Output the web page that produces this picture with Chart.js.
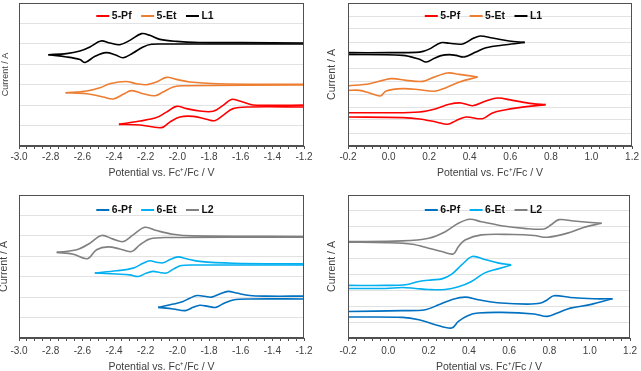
<!DOCTYPE html>
<html><head><meta charset="utf-8">
<script src="https://cdn.jsdelivr.net/npm/chart.js@4"></script>
<style>
html,body{margin:0;padding:0;background:#fff;overflow:hidden;width:641px;height:371px;position:relative;}
canvas{position:absolute;}
</style></head><body>
<canvas id="c1" width="320" height="185" style="left:0;top:0;width:320px;height:185px"></canvas>
<canvas id="c2" width="321" height="185" style="left:320px;top:0;width:321px;height:185px"></canvas>
<canvas id="c3" width="320" height="192" style="left:0;top:185px;width:320px;height:192px"></canvas>
<canvas id="c4" width="321" height="192" style="left:320px;top:185px;width:321px;height:192px"></canvas>
<script>
// ---- Data: [potential (V vs Fc+/Fc), current (arb. offset units)] ; a = upper branch, b = lower branch
// Panel 1 (reduction, 5-Pf / 5-Et / L1)
const p1L1a = [[-2.815,4.47],[-2.70,4.52],[-2.615,4.65],[-2.552,4.85],[-2.483,5.14],[-2.426,5.04],[-2.363,4.96],[-2.30,5.17],[-2.226,5.50],[-2.174,5.42],[-2.11,5.22],[-2.005,5.12],[-1.86,5.07],[-1.6,5.06],[-1.2,5.04]];
const p1L1b = [[-2.815,4.47],[-2.70,4.36],[-2.615,4.23],[-2.583,4.09],[-2.52,4.39],[-2.45,4.57],[-2.394,4.47],[-2.342,4.32],[-2.28,4.55],[-2.216,4.85],[-2.163,4.98],[-2.07,4.99],[-1.2,4.99]];
const p1Eta = [[-2.706,2.61],[-2.573,2.69],[-2.489,2.85],[-2.426,3.05],[-2.325,3.16],[-2.258,3.05],[-2.195,3.00],[-2.132,3.13],[-2.069,3.36],[-2.005,3.26],[-1.921,3.13],[-1.753,3.05],[-1.2,3.02]];
const p1Etb = [[-2.706,2.61],[-2.573,2.56],[-2.468,2.40],[-2.405,2.30],[-2.342,2.53],[-2.289,2.71],[-2.216,2.56],[-2.142,2.46],[-2.09,2.64],[-2.026,2.89],[-1.963,2.95],[-1.2,2.99]];
const p1Pfa = [[-2.369,1.06],[-2.237,1.22],[-2.132,1.39],[-2.069,1.66],[-2.005,1.94],[-1.942,1.83],[-1.858,1.71],[-1.774,1.70],[-1.711,1.99],[-1.659,2.28],[-1.606,2.20],[-1.522,2.01],[-1.438,1.99],[-1.2,2.00]];
const p1Pfb = [[-2.369,1.06],[-2.237,1.03],[-2.10,0.90],[-2.048,1.17],[-1.984,1.42],[-1.90,1.45],[-1.816,1.31],[-1.764,1.24],[-1.711,1.50],[-1.648,1.83],[-1.543,1.91],[-1.2,1.91]];
// Panel 2 (oxidation, 5-Pf / 5-Et / L1)
const p2L1a = [[-0.2,7.18],[0.0,7.18],[0.136,7.20],[0.17,7.28],[0.20,7.45],[0.258,7.95],[0.30,7.90],[0.365,7.85],[0.42,8.30],[0.452,8.46],[0.512,8.31],[0.594,8.08],[0.671,7.97]];
const p2L1b = [[0.671,7.97],[0.578,7.79],[0.48,7.56],[0.43,7.23],[0.373,6.85],[0.332,6.97],[0.30,7.03],[0.258,6.95],[0.226,6.75],[0.185,6.46],[0.152,6.67],[0.07,6.97],[-0.2,7.05]];
const p2Eta = [[-0.2,4.62],[-0.094,4.79],[0.013,5.18],[0.087,5.05],[0.168,4.97],[0.218,5.26],[0.291,5.62],[0.349,5.51],[0.439,5.31]];
const p2Etb = [[0.439,5.31],[0.349,4.92],[0.283,4.49],[0.226,4.21],[0.152,4.33],[0.07,4.41],[-0.012,4.23],[-0.04,3.85],[-0.094,4.08],[-0.143,4.28],[-0.2,4.28]];
const p2Pfa = [[-0.2,2.56],[0.0,2.56],[0.152,2.62],[0.234,2.87],[0.299,3.21],[0.357,3.31],[0.414,3.10],[0.48,3.46],[0.537,3.69],[0.611,3.51],[0.709,3.26],[0.774,3.18]];
const p2Pfb = [[0.774,3.18],[0.643,2.95],[0.578,2.79],[0.512,2.54],[0.463,2.10],[0.381,2.23],[0.332,1.95],[0.291,1.67],[0.234,1.85],[0.152,2.08],[0.07,2.18],[-0.2,2.23]];
// Panel 3 (reduction, 6-Pf / 6-Et / L2)
const p3L2a = [[-2.762,4.19],[-2.636,4.32],[-2.552,4.64],[-2.479,5.02],[-2.405,4.84],[-2.342,4.72],[-2.279,5.05],[-2.205,5.42],[-2.132,5.26],[-2.027,5.08],[-1.90,5.00],[-1.2,4.97]];
const p3L2b = [[-2.762,4.19],[-2.657,4.10],[-2.569,3.88],[-2.51,4.32],[-2.437,4.46],[-2.363,4.36],[-2.289,4.23],[-2.237,4.56],[-2.174,4.85],[-2.069,4.92],[-1.2,4.93]];
const p3Eta = [[-2.521,3.18],[-2.384,3.29],[-2.279,3.42],[-2.216,3.66],[-2.174,3.78],[-2.132,3.71],[-2.09,3.68],[-2.048,3.83],[-1.995,3.97],[-1.942,3.88],[-1.858,3.75],[-1.648,3.66],[-1.2,3.63]];
const p3Etb = [[-2.521,3.18],[-2.384,3.13],[-2.30,3.09],[-2.247,3.01],[-2.195,3.18],[-2.153,3.26],[-2.111,3.21],[-2.069,3.18],[-2.026,3.37],[-1.974,3.55],[-1.858,3.57],[-1.2,3.57]];
const p3Pfa = [[-2.121,1.50],[-2.026,1.66],[-1.963,1.79],[-1.921,1.95],[-1.875,2.08],[-1.827,2.04],[-1.785,2.00],[-1.732,2.15],[-1.68,2.28],[-1.627,2.20],[-1.543,2.08],[-1.438,2.05],[-1.2,2.05]];
const p3Pfb = [[-2.121,1.50],[-2.026,1.42],[-1.949,1.34],[-1.90,1.50],[-1.858,1.60],[-1.806,1.55],[-1.757,1.50],[-1.711,1.68],[-1.648,1.86],[-1.543,1.91],[-1.2,1.91]];
// Panel 4 (oxidation, 6-Pf / 6-Et / L2)
const p4L2a = [[-0.2,6.07],[0.07,6.11],[0.20,6.28],[0.283,6.69],[0.348,7.22],[0.405,7.47],[0.462,7.32],[0.561,7.07],[0.675,6.90],[0.773,6.86],[0.806,7.11],[0.847,7.45],[0.92,7.36],[1.059,7.22]];
const p4L2b = [[1.059,7.22],[0.969,6.96],[0.904,6.65],[0.79,6.34],[0.724,6.45],[0.62,6.51],[0.462,6.49],[0.381,6.17],[0.348,5.75],[0.323,5.29],[0.266,5.44],[0.20,5.65],[0.119,5.90],[-0.012,6.00],[-0.2,6.03]];
const p4Eta = [[-0.2,3.31],[-0.012,3.31],[0.086,3.35],[0.152,3.56],[0.217,3.66],[0.266,3.72],[0.315,4.02],[0.364,4.60],[0.417,5.13],[0.479,4.94],[0.544,4.73],[0.61,4.60]];
const p4Etb = [[0.61,4.60],[0.544,4.35],[0.479,4.10],[0.413,3.56],[0.348,3.22],[0.282,3.05],[0.20,3.05],[0.135,3.12],[0.07,3.18],[-0.012,3.12],[-0.2,3.12]];
const p4Pfa = [[-0.2,1.67],[0.07,1.72],[0.184,1.78],[0.25,2.09],[0.315,2.41],[0.381,2.57],[0.446,2.41],[0.561,2.20],[0.691,2.13],[0.757,2.20],[0.79,2.41],[0.822,2.66],[0.904,2.55],[1.019,2.47],[1.113,2.47]];
const p4Pfb = [[1.113,2.47],[1.002,2.10],[0.904,1.88],[0.839,1.57],[0.79,1.36],[0.724,1.51],[0.561,1.61],[0.446,1.57],[0.397,1.42],[0.348,1.05],[0.315,0.63],[0.233,0.84],[0.152,1.15],[0.07,1.30],[-0.2,1.32]];

const labelsTop = ['5-Pf','5-Et','L1'];
const labelsBottom = ['6-Pf','6-Et','L2'];
const colorsTop = ['#FF0000','#ED7D31','#000000'];
const colorsBottom = ['#0070C0','#00B0F0','#808080'];
const xTitle = 'Potential vs. Fc\u207A/Fc / V';
const yTitle = 'Current / A';

const FONT = "'Liberation Sans', Arial, sans-serif";

function tickLabel(v){
  const r = Math.round(v/0.2);
  if (Math.abs(v/0.2 - r) > 1e-6) return '';
  const t = r*0.2;
  return Math.abs(t) < 1e-9 ? '0.0' : t.toFixed(1);
}

const framePlugin = {
  id:'frame',
  afterDraw(chart){
    const a = chart.chartArea, c = chart.ctx;
    c.save(); c.strokeStyle = '#505050'; c.lineWidth = 1;
    c.strokeRect(Math.round(a.left)+0.5, Math.round(a.top)+0.5, Math.round(a.right-a.left)-1, Math.round(a.bottom-a.top)-1);
    c.restore();
  }
};

function makePanel(id, p){
  const datasets = [];
  p.series.forEach(s => {
    [s.a, s.b].forEach(arr => datasets.push({
      label: s.label,
      data: arr.map(([x,y]) => ({x, y})),
      showLine: true, borderColor: s.color, backgroundColor: s.color,
      borderWidth: 1.6, pointRadius: 0, tension: 0.35, fill: false
    }));
  });
  // single-row line-style legend drawn inside the plot area
  const legendPlugin = {
    id:'cvLegend',
    afterDraw(chart){
      const ctx = chart.ctx;
      const items = chart.data.datasets.filter((d,i) => i % 2 === 0);
      ctx.save();
      ctx.font = 'bold 10.5px ' + FONT;
      ctx.textBaseline = 'middle';
      ctx.textAlign = 'left';
      const lineW = 13, gap1 = 2.5, gap2 = 9.5;
      const widths = items.map(d => ctx.measureText(d.label).width);
      const total = widths.reduce((s,w) => s + lineW + gap1 + w, 0) + gap2*(items.length-1);
      let x = p.legendCx - total/2;
      const cy = p.legendCy;
      items.forEach((d,i) => {
        ctx.strokeStyle = d.borderColor; ctx.lineWidth = 2;
        ctx.beginPath(); ctx.moveTo(x, cy); ctx.lineTo(x + lineW, cy); ctx.stroke();
        x += lineW + gap1;
        ctx.fillStyle = '#111';
        ctx.fillText(d.label, x, cy + 0.5);
        x += widths[i] + gap2;
      });
      ctx.restore();
    }
  };
  new Chart(document.getElementById(id), {
    type: 'scatter',
    data: { datasets },
    plugins: [framePlugin, legendPlugin],
    options: {
      responsive: false, animation: false, devicePixelRatio: 1, events: [],
      layout: { padding: { top: p.padTop, right: p.padRight, left: 0, bottom: 0 } },
      plugins: { tooltip: { enabled: false }, legend: { display: false } },
      scales: {
        x: {
          type: 'linear', position: 'bottom', min: p.xmin, max: p.xmax,
          afterFit: (s) => { s.height = 39; },
          ticks: { stepSize: p.xstep, autoSkip: false, maxRotation: 0, minRotation: 0, padding: p.tickPad,
                   color: '#404040', font: { family: FONT, size: 10 }, callback: tickLabel },
          grid: { drawOnChartArea: false, drawTicks: true, tickLength: 3, color: '#505050', tickColor: '#505050' },
          border: { display: true, color: '#505050' },
          title: { display: true, text: xTitle, color: '#404040',
                   font: { family: FONT, size: 10.5, lineHeight: 1.2 }, padding: { top: 0, bottom: p.xTitlePad } }
        },
        y: {
          type: 'linear', position: 'left', min: 0, max: p.ymax,
          afterFit: (s) => { s.width = p.yAxisW; },
          ticks: { display: false, stepSize: 1 },
          grid: { drawTicks: false, color: '#e2e2e2' },
          border: { display: false },
          title: { display: true, text: yTitle, color: '#404040',
                   font: { family: FONT, size: p.yTitleSize, lineHeight: 1.2 }, padding: { top: p.yTitlePad, bottom: 0 } }
        }
      }
    }
  });
}

makePanel('c1', { xmin:-3.0, xmax:-1.2, xstep:0.05, ymax:7, yAxisW:19, padTop:3, padRight:16, tickPad:2, xTitlePad:5.7,
  yTitleSize:9, yTitlePad:0, legendCx:155, legendCy:16,
  series:[{label:labelsTop[0], color:colorsTop[0], a:p1Pfa, b:p1Pfb},{label:labelsTop[1], color:colorsTop[1], a:p1Eta, b:p1Etb},{label:labelsTop[2], color:colorsTop[2], a:p1L1a, b:p1L1b}] });
makePanel('c2', { xmin:-0.2, xmax:1.2, xstep:0.04, ymax:11, yAxisW:28, padTop:3, padRight:8, tickPad:2, xTitlePad:5.7,
  yTitleSize:10.5, yTitlePad:5.4, legendCx:163.5, legendCy:16,
  series:[{label:labelsTop[0], color:colorsTop[0], a:p2Pfa, b:p2Pfb},{label:labelsTop[1], color:colorsTop[1], a:p2Eta, b:p2Etb},{label:labelsTop[2], color:colorsTop[2], a:p2L1a, b:p2L1b}] });
makePanel('c3', { xmin:-3.0, xmax:-1.2, xstep:0.05, ymax:7, yAxisW:19, padTop:10, padRight:16, tickPad:4, xTitlePad:4,
  yTitleSize:10.5, yTitlePad:-2.3, legendCx:155, legendCy:25,
  series:[{label:labelsBottom[0], color:colorsBottom[0], a:p3Pfa, b:p3Pfb},{label:labelsBottom[1], color:colorsBottom[1], a:p3Eta, b:p3Etb},{label:labelsBottom[2], color:colorsBottom[2], a:p3L2a, b:p3L2b}] });
makePanel('c4', { xmin:-0.2, xmax:1.2, xstep:0.04, ymax:9, yAxisW:28, padTop:10, padRight:7, tickPad:4, xTitlePad:4,
  yTitleSize:10.5, yTitlePad:5.4, legendCx:163.5, legendCy:25,
  series:[{label:labelsBottom[0], color:colorsBottom[0], a:p4Pfa, b:p4Pfb},{label:labelsBottom[1], color:colorsBottom[1], a:p4Eta, b:p4Etb},{label:labelsBottom[2], color:colorsBottom[2], a:p4L2a, b:p4L2b}] });
</script></body></html>
